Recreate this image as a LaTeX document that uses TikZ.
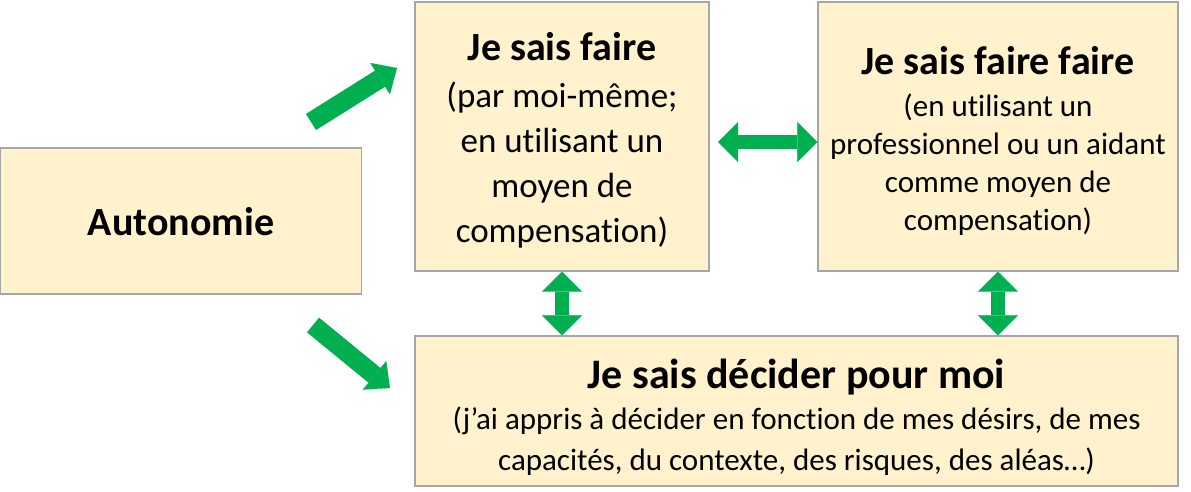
\documentclass[tikz,border=0pt]{standalone}
\usepackage{fontspec}
\setmainfont{Carlito}[Ligatures=NoCommon]
\usetikzlibrary{arrows.meta}
\definecolor{boxfill}{HTML}{FFF2CC}
\definecolor{boxline}{HTML}{A6A6A6}
\definecolor{arrgreen}{HTML}{00B050}
\begin{document}
\begin{tikzpicture}[x=1pt,y=-1pt,
  box/.style={draw=boxline, fill=boxfill, line width=1.2pt, inner sep=0pt},
  txt/.style={inner sep=0pt, align=center},
  bigarrow/.style={draw=arrgreen, line width=19pt,
    -{Triangle[length=20pt,width=37pt,line width=0.1pt]}},
  dblarrow/.style={draw=arrgreen, line width=14pt,
    {Triangle[length=20pt,width=40pt,line width=0.1pt]}-{Triangle[length=20pt,width=40pt,line width=0.1pt]}}
]
\useasboundingbox (0,0) rectangle (1191,492);

\node[box, minimum width=361pt, minimum height=146pt] (A) at (181,221) {};
\node[box, minimum width=294pt, minimum height=269pt] (B) at (562,136.5) {};
\node[box, minimum width=360pt, minimum height=269pt] (C) at (998,136.5) {};
\node[box, minimum width=763pt, minimum height=150pt] (D) at (796.5,411) {};

\node[txt, font=\fontsize{40}{48}\selectfont\bfseries] (At) at ([yshift=-1pt]A.center) {Autonomie};

\node[txt, font=\fontsize{35}{45}\selectfont] (Bt) at ([yshift=-4pt]B.center)
  {{\fontsize{40}{48}\selectfont\bfseries Je sais faire}\\[2pt]
   (par moi-même;\\ en utilisant un\\ moyen de\\ compensation)};

\node[txt, font=\fontsize{31}{38}\selectfont] (Ct) at ([yshift=-4pt]C.center)
  {{\fontsize{40}{48}\selectfont\bfseries Je sais faire faire}\\[4pt]
   (en utilisant un\\ professionnel ou un aidant\\ comme moyen de\\ compensation)};

\node[txt, font=\fontsize{31}{41}\selectfont] (Dt) at ([yshift=-6pt]D.center)
  {{\fontsize{42}{48}\selectfont\bfseries Je sais décider pour moi}\\
   (j’ai appris à décider en fonction de mes désirs, de mes\\
   capacités, du contexte, des risques, des aléas…)};

\coordinate (a1s) at (311,122);
\coordinate (a1e) at (397,68);
\coordinate (a2s) at (313,325);
\coordinate (a2e) at (390,388);
\coordinate (h1) at (718,142);

\draw[bigarrow] (a1s) -- (a1e);
\draw[bigarrow] (a2s) -- (a2e);
\draw[dblarrow] (h1) -- (C.west |- h1);
\draw[dblarrow] (B.south) -- (D.north -| B.south);
\draw[dblarrow] (C.south) -- (D.north -| C.south);
\end{tikzpicture}
\end{document}
